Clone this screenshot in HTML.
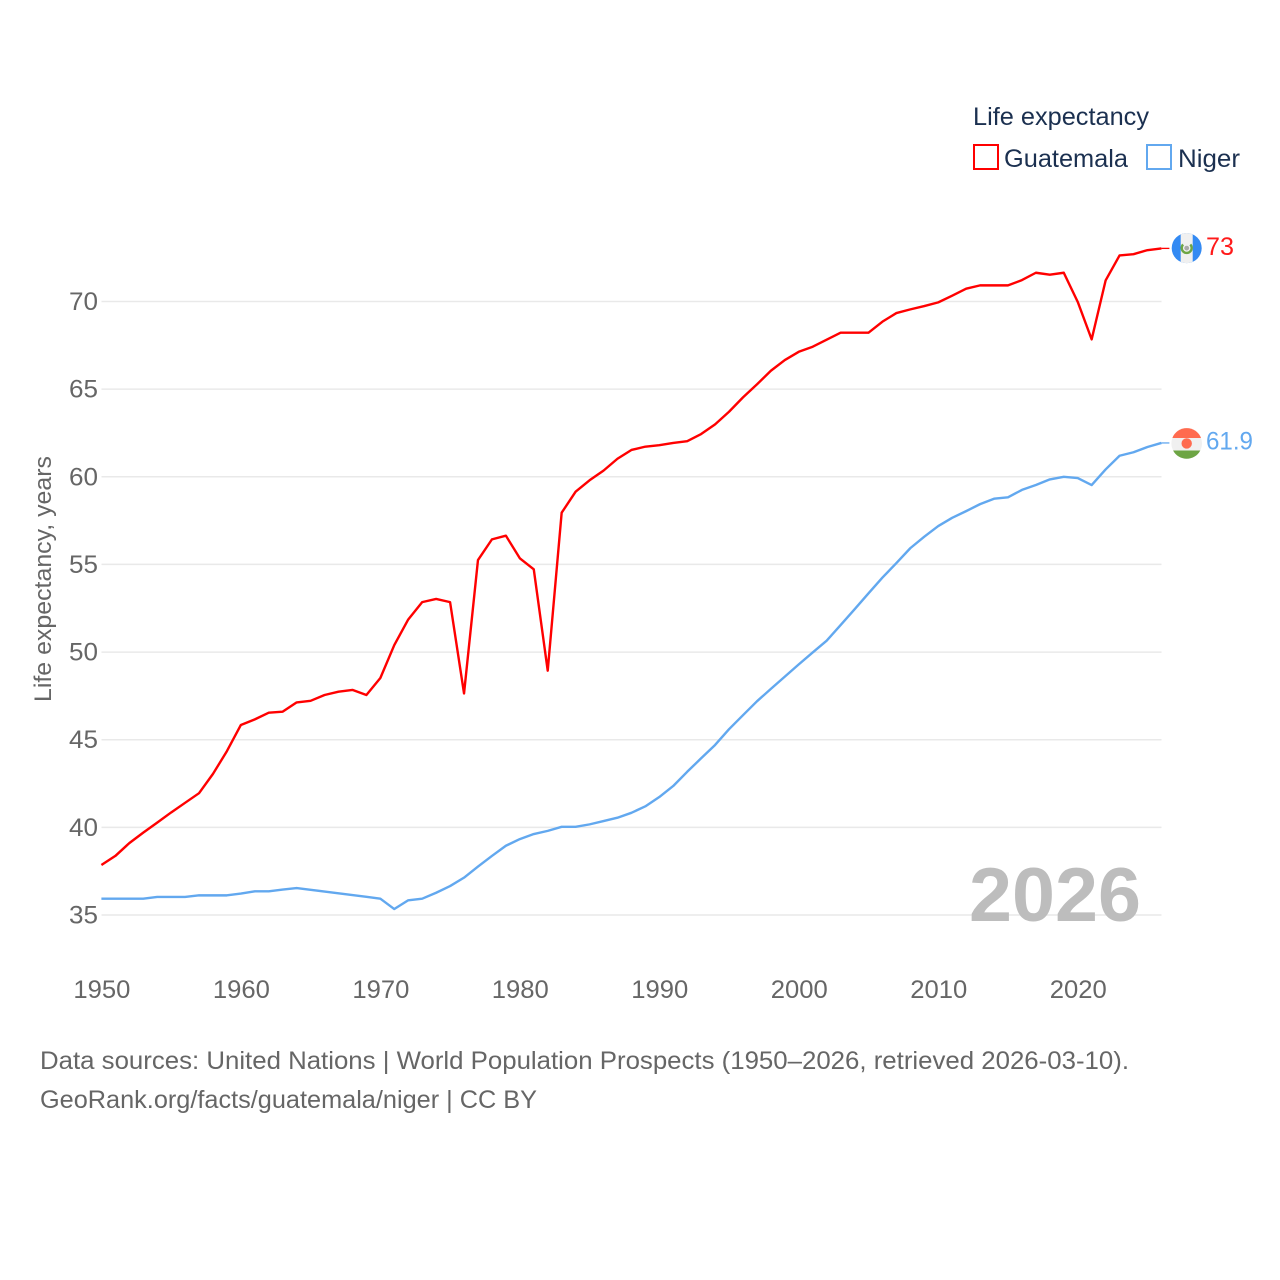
<!DOCTYPE html>
<html lang="en">
<head>
<meta charset="utf-8">
<title>Life expectancy: Guatemala and Niger</title>
<style>
html,body{margin:0;padding:0;background:#fff;}
svg{display:block;font-family:"Liberation Sans",sans-serif;}
</style>
</head>
<body>
<svg id="chart" width="1280" height="1280" viewBox="0 0 1280 1280" xmlns="http://www.w3.org/2000/svg">
  <rect width="1280" height="1280" fill="#fff"/>
  <g id="grid"></g>
  <g id="yticks"></g>
  <g id="xticks"></g>
  <text transform="translate(51,702) rotate(-90)" font-size="24" fill="#666" textLength="246" lengthAdjust="spacingAndGlyphs">Life expectancy, years</text>
  <text x="969" y="921" font-size="76" font-weight="bold" fill="#bdbdbd" textLength="172" lengthAdjust="spacingAndGlyphs">2026</text>
  <g id="series"></g>

  <g id="flag-guatemala">
    <circle r="15" fill="#338af3"/>
    <path d="M-6,-13.75 A15,15 0 0 1 6,-13.75 L6,13.75 A15,15 0 0 1 -6,13.75 Z" fill="#f0f0f0"/>
    <path d="M-3.6,-3.6 A5,5 0 1 0 3.6,-3.6" fill="none" stroke="#6da544" stroke-width="2.4"/>
    <circle r="2.4" fill="#a9a9a9"/>
  </g>
  <g id="flag-niger">
    <circle r="15.3" fill="#f0f0f0"/>
    <path d="M-14.3,-5.5 A15.3,15.3 0 0 1 14.3,-5.5 Z" fill="#ff6b4f"/>
    <path d="M-13.6,7 A15.3,15.3 0 0 0 13.6,7 Z" fill="#6da544"/>
    <circle r="5.2" fill="#ff6b4f"/>
  </g>
  <text id="label-guatemala" x="1206" font-size="25" fill="#ff1a1a" textLength="28" lengthAdjust="spacingAndGlyphs"></text>
  <text id="label-niger" x="1206" font-size="25" fill="#62a8ef" textLength="47" lengthAdjust="spacingAndGlyphs"></text>

  <g>
    <text x="973" y="125" font-size="25" fill="#1b3050" textLength="176" lengthAdjust="spacingAndGlyphs">Life expectancy</text>
    <g>
      <rect x="974" y="145" width="24" height="24" fill="#fff" stroke="#ff0000" stroke-width="2"/>
      <text x="1004" y="167" font-size="25" fill="#1b3050" textLength="124" lengthAdjust="spacingAndGlyphs">Guatemala</text>
    </g>
    <g>
      <rect x="1147" y="145" width="24" height="24" fill="#fff" stroke="#62a8ef" stroke-width="2"/>
      <text x="1178" y="167" font-size="25" fill="#1b3050" textLength="62" lengthAdjust="spacingAndGlyphs">Niger</text>
    </g>
  </g>

  <g>
    <text x="40" y="1069" font-size="25" fill="#666" textLength="1089" lengthAdjust="spacingAndGlyphs">Data sources: United Nations | World Population Prospects (1950–2026, retrieved 2026-03-10).</text>
    <text x="40" y="1108" font-size="25" fill="#666" textLength="497" lengthAdjust="spacingAndGlyphs">GeoRank.org/facts/guatemala/niger | CC BY</text>
  </g>
</svg>
<script>
const years = [1950,1951,1952,1953,1954,1955,1956,1957,1958,1959,1960,1961,1962,1963,1964,1965,1966,1967,1968,1969,1970,1971,1972,1973,1974,1975,1976,1977,1978,1979,1980,1981,1982,1983,1984,1985,1986,1987,1988,1989,1990,1991,1992,1993,1994,1995,1996,1997,1998,1999,2000,2001,2002,2003,2004,2005,2006,2007,2008,2009,2010,2011,2012,2013,2014,2015,2016,2017,2018,2019,2020,2021,2022,2023,2024,2025,2026];
const guatemala = [37.85,38.37,39.1,39.7,40.27,40.85,41.4,41.95,43.05,44.35,45.84,46.16,46.54,46.6,47.13,47.22,47.55,47.74,47.84,47.55,48.52,50.4,51.86,52.85,53.03,52.85,47.64,55.25,56.43,56.64,55.35,54.72,48.94,57.95,59.15,59.8,60.35,61.03,61.53,61.72,61.8,61.93,62.03,62.44,62.99,63.71,64.53,65.27,66.05,66.66,67.13,67.42,67.82,68.22,68.22,68.22,68.85,69.34,69.55,69.74,69.95,70.33,70.73,70.92,70.92,70.92,71.22,71.64,71.53,71.64,69.98,67.84,71.2,72.63,72.7,72.93,73.03];
const niger = [35.93,35.93,35.93,35.93,36.03,36.03,36.03,36.12,36.12,36.12,36.22,36.35,36.35,36.45,36.54,36.44,36.34,36.24,36.14,36.04,35.93,35.34,35.84,35.93,36.27,36.65,37.13,37.76,38.37,38.95,39.33,39.62,39.8,40.03,40.03,40.17,40.36,40.55,40.83,41.2,41.73,42.36,43.17,43.94,44.7,45.6,46.4,47.19,47.9,48.6,49.3,49.98,50.65,51.54,52.44,53.35,54.25,55.08,55.93,56.58,57.19,57.66,58.04,58.44,58.75,58.83,59.25,59.53,59.85,60.0,59.93,59.53,60.42,61.2,61.4,61.7,61.93];
const yTickValues = [35,40,45,50,55,60,65,70];
const xTickValues = [1950,1960,1970,1980,1990,2000,2010,2020];
const endLabels = ["73","61.9"];

const NS = "http://www.w3.org/2000/svg";
function xScale(year){ return 101.4 + (year - 1950) * (1060 / 76); }
function yScale(value){ return 915 - (value - 35) * (613.5 / 35); }

const gridLayer = document.getElementById("grid");
const yTickLayer = document.getElementById("yticks");
const xTickLayer = document.getElementById("xticks");
const seriesLayer = document.getElementById("series");

yTickValues.forEach(function(v){
  const line = document.createElementNS(NS, "line");
  
  
  line.setAttribute("x1", 101.5);
  line.setAttribute("x2", 1161.5);
  line.setAttribute("y1", yScale(v));
  line.setAttribute("y2", yScale(v));
  line.setAttribute("stroke", "#e9e9e9");
  line.setAttribute("stroke-width", "1.5");
  gridLayer.appendChild(line);

  const label = document.createElementNS(NS, "text");
  
  
  label.setAttribute("x", 69);
  label.setAttribute("y", yScale(v) + 8.5);
  label.setAttribute("font-size", "25");
  label.setAttribute("fill", "#666");
  label.setAttribute("textLength", "29");
  label.setAttribute("lengthAdjust", "spacingAndGlyphs");
  label.textContent = String(v);
  yTickLayer.appendChild(label);
});

xTickValues.forEach(function(v){
  const label = document.createElementNS(NS, "text");
  
  
  label.setAttribute("x", xScale(v) - 28);
  label.setAttribute("y", 998);
  label.setAttribute("font-size", "25");
  label.setAttribute("fill", "#666");
  label.setAttribute("textLength", "57");
  label.setAttribute("lengthAdjust", "spacingAndGlyphs");
  label.textContent = String(v);
  xTickLayer.appendChild(label);
});

function pointsFor(values){
  return values.map(function(v, i){
    return xScale(years[i]).toFixed(2) + "," + yScale(v).toFixed(2);
  }).join(" ");
}

const redLine = document.createElementNS(NS, "polyline");


redLine.setAttribute("points", pointsFor(guatemala));
redLine.setAttribute("fill", "none");
redLine.setAttribute("stroke", "#ff0000");
redLine.setAttribute("stroke-width", "2.4");
redLine.setAttribute("stroke-linejoin", "round");
seriesLayer.appendChild(redLine);

const blueLine = document.createElementNS(NS, "polyline");


blueLine.setAttribute("points", pointsFor(niger));
blueLine.setAttribute("fill", "none");
blueLine.setAttribute("stroke", "#62a8ef");
blueLine.setAttribute("stroke-width", "2.4");
blueLine.setAttribute("stroke-linejoin", "round");
seriesLayer.appendChild(blueLine);

const lastX = xScale(years[years.length - 1]);
const redEndY = yScale(guatemala[guatemala.length - 1]);
const blueEndY = yScale(niger[niger.length - 1]);

const redConnector = document.createElementNS(NS, "line");


redConnector.setAttribute("x1", lastX);
redConnector.setAttribute("x2", lastX + 8);
redConnector.setAttribute("y1", redEndY);
redConnector.setAttribute("y2", redEndY);
redConnector.setAttribute("stroke", "#ff0000");
redConnector.setAttribute("stroke-width", "1.3");
seriesLayer.appendChild(redConnector);

const blueConnector = document.createElementNS(NS, "line");


blueConnector.setAttribute("x1", lastX);
blueConnector.setAttribute("x2", lastX + 8);
blueConnector.setAttribute("y1", blueEndY);
blueConnector.setAttribute("y2", blueEndY);
blueConnector.setAttribute("stroke", "#62a8ef");
blueConnector.setAttribute("stroke-width", "1.3");
seriesLayer.appendChild(blueConnector);

document.getElementById("flag-guatemala").setAttribute("transform", "translate(1186.7," + (redEndY - 0.3) + ")");
document.getElementById("flag-niger").setAttribute("transform", "translate(1186.7," + (blueEndY + 0.5) + ")");

const guatemalaLabel = document.getElementById("label-guatemala");
guatemalaLabel.setAttribute("y", redEndY + 6.5);
guatemalaLabel.textContent = endLabels[0];

const nigerLabel = document.getElementById("label-niger");
nigerLabel.setAttribute("y", blueEndY + 6.5);
nigerLabel.textContent = endLabels[1];
</script>
</body>
</html>
